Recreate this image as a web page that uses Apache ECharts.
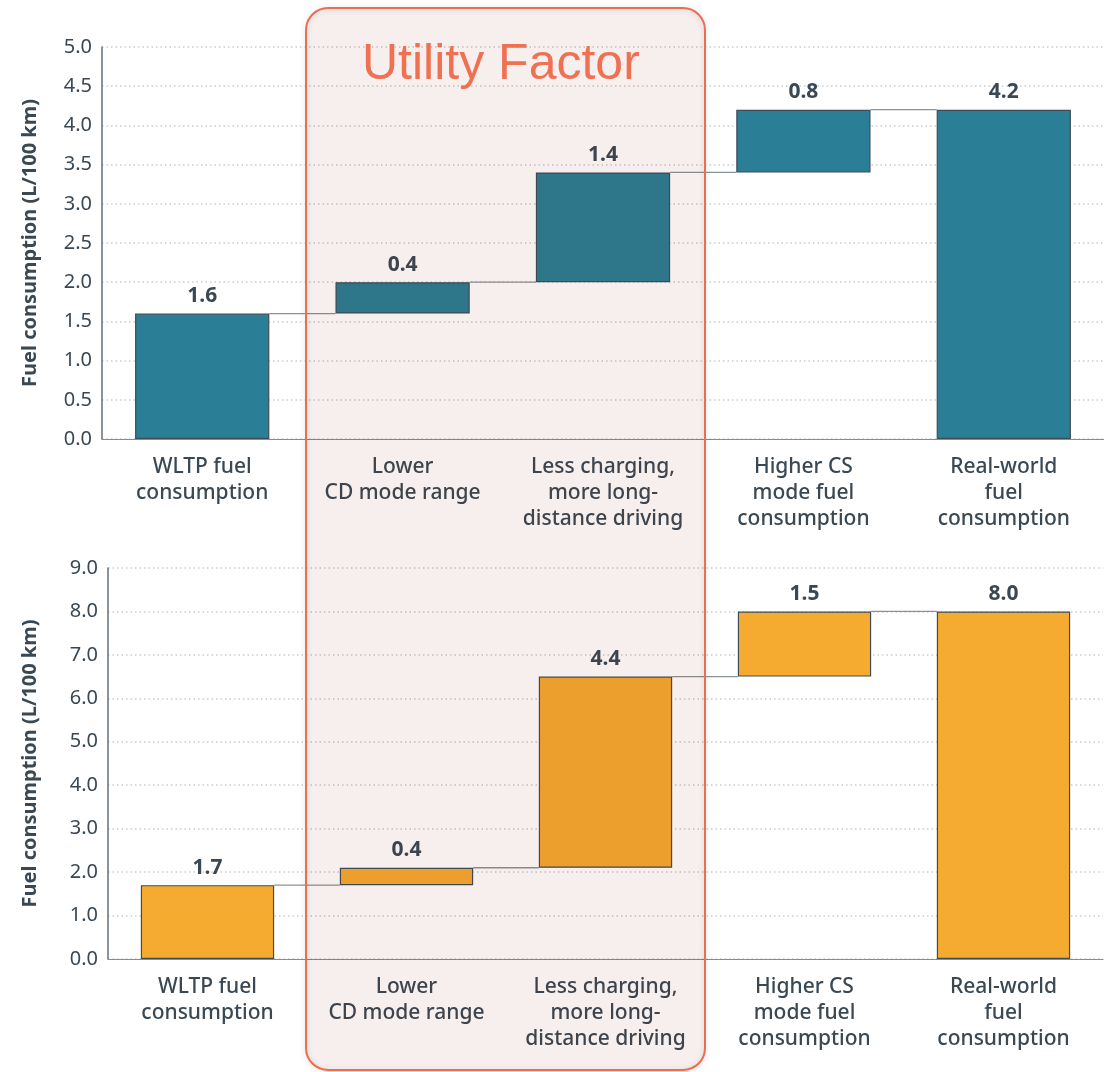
<!DOCTYPE html>
<html>
<head>
<meta charset="utf-8">
<title>PHEV fuel consumption waterfall</title>
<script src="https://cdn.jsdelivr.net/npm/echarts@6/dist/echarts.min.js"></script>
<style>
  html, body { margin: 0; padding: 0; background: #ffffff; }
  #chart { width: 1104px; height: 1072px; }
</style>
</head>
<body>
<div id="chart"></div>
<script>
// Waterfall steps, shared by both panels
const categories = [
  'WLTP fuel\nconsumption',
  'Lower\nCD mode range',
  'Less charging,\nmore long-\ndistance driving',
  'Higher CS\nmode fuel\nconsumption',
  'Real-world\nfuel\nconsumption'
];

// Upper panel (L/100 km)
const upperValues = [1.6, 0.4, 1.4, 0.8, 4.2];
const upperTicks = { min: 0, max: 5, interval: 0.5 };

// Lower panel (L/100 km)
const lowerValues = [1.7, 0.4, 4.4, 1.5, 8.0];
const lowerTicks = { min: 0, max: 9, interval: 1 };

const axisTitle = 'Fuel consumption (L/100 km)';
const overlayTitle = 'Utility Factor';

// first and last bars start at zero; the steps in between float on the running total
function waterfallBases(values) {
  const bases = [];
  let run = 0;
  values.forEach((v, i) => {
    if (i === 0 || i === values.length - 1) bases.push(0);
    else bases.push(run);
    if (i < values.length - 1) run += v;
  });
  return bases;
}
function connectorLevels(values) {
  const bases = waterfallBases(values);
  const out = [];
  for (let i = 0; i < values.length - 1; i++) out.push([i, bases[i] + values[i]]);
  return out;
}

const TEXT = '#3a4853';
const FONT = '"Noto Sans", sans-serif';
const BAR_RATIO = 0.67;

function axesFor(gridIndex, ticks, nameGap) {
  return {
    x: {
      type: 'category',
      gridIndex,
      data: categories,
      axisTick: { show: false },
      axisLine: { lineStyle: { color: '#858d93', width: 1.2 } },
      axisLabel: {
        color: TEXT, fontFamily: FONT, fontSize: 21, fontWeight: 500,
        lineHeight: 26, margin: 15, interval: 0
      }
    },
    y: {
      type: 'value',
      gridIndex,
      min: ticks.min, max: ticks.max, interval: ticks.interval,
      name: axisTitle,
      nameLocation: 'middle',
      nameGap,
      nameRotate: 90,
      nameTextStyle: { color: TEXT, fontFamily: FONT, fontSize: 20, fontWeight: 'bold' },
      axisLine: { show: true, lineStyle: { color: '#66717a', width: 1.5 } },
      axisTick: { show: false },
      axisLabel: {
        color: TEXT, fontFamily: FONT, fontSize: 20, margin: 10,
        formatter: v => v.toFixed(1)
      },
      splitLine: { lineStyle: { color: '#c8cdd0', width: 1.5, type: [1.5, 3] } }
    }
  };
}

function seriesFor(idx, values, color) {
  const bases = waterfallBases(values);
  return [
    {
      type: 'bar', xAxisIndex: idx, yAxisIndex: idx, stack: 'wf' + idx,
      barWidth: (BAR_RATIO * 100) + '%',
      itemStyle: { color: 'transparent', borderColor: 'transparent' },
      emphasis: { disabled: true },
      data: bases, silent: true
    },
    {
      type: 'bar', xAxisIndex: idx, yAxisIndex: idx, stack: 'wf' + idx,
      barWidth: (BAR_RATIO * 100) + '%',
      itemStyle: { color, borderColor: '#3e4d57', borderWidth: 1.2 },
      label: {
        show: true, position: 'top', distance: 7,
        color: TEXT, fontFamily: FONT, fontSize: 21, fontWeight: 'bold',
        formatter: p => values[p.dataIndex].toFixed(1)
      },
      data: values
    },
    {
      type: 'custom', xAxisIndex: idx, yAxisIndex: idx, z: 1,
      data: connectorLevels(values),
      renderItem: (params, api) => {
        const i = api.value(0), lvl = api.value(1);
        const a = api.coord([i, lvl]);
        const b = api.coord([i + 1, lvl]);
        const half = api.size([1, 0])[0] * BAR_RATIO / 2;
        return {
          type: 'line',
          shape: { x1: a[0] + half, y1: a[1], x2: b[0] - half, y2: b[1] },
          style: { stroke: '#8a9399', lineWidth: 1.3 }
        };
      }
    }
  ];
}

const upper = axesFor(0, upperTicks, 62);
const lower = axesFor(1, lowerTicks, 68);

const chart = echarts.init(document.getElementById('chart'), null, { renderer: 'canvas' });
chart.setOption({
  animation: false,
  backgroundColor: '#ffffff',
  grid: [
    { left: 102, top: 47, width: 1005, height: 392 },
    { left: 108, top: 568, width: 995, height: 391 }
  ],
  xAxis: [upper.x, lower.x],
  yAxis: [upper.y, lower.y],
  series: [
    ...seriesFor(0, upperValues, '#2a7f96'),
    ...seriesFor(1, lowerValues, '#f5ab30')
  ],
  graphic: [
    {
      type: 'rect', z: 100,
      shape: { x: 306, y: 8, width: 399, height: 1062, r: 22 },
      style: {
        fill: 'rgba(150,20,0,0.055)',
        stroke: '#ee6d4e', lineWidth: 2,
        shadowBlur: 6, shadowColor: 'rgba(0,0,0,0.18)', shadowOffsetY: 1
      },
      silent: true
    },
    {
      type: 'text', z: 101,
      style: {
        x: 362, y: 65, text: overlayTitle,
        font: '50px "Liberation Sans", Arial, sans-serif',
        fill: '#f07152', textAlign: 'left', textVerticalAlign: 'middle'
      },
      silent: true
    }
  ]
});
</script>
</body>
</html>
